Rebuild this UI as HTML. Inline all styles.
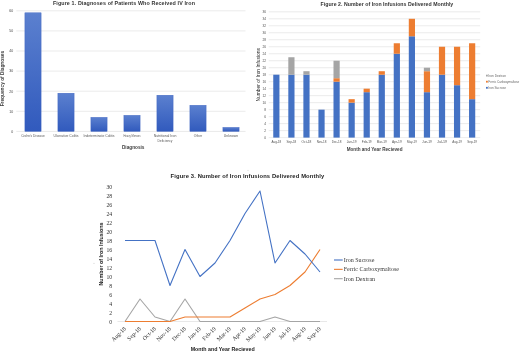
<!DOCTYPE html>
<html><head><meta charset="utf-8"><style>
html,body{margin:0;padding:0;background:#fff;width:520px;height:351px;overflow:hidden;}
svg{display:block;font-family:"Liberation Sans",sans-serif;will-change:transform;filter:blur(0.35px);}
</style></head><body>
<svg width="520" height="351" viewBox="0 0 520 351">
<defs><linearGradient id="g1" x1="0" y1="0" x2="0" y2="1"><stop offset="0" stop-color="#5b80cf"/><stop offset="1" stop-color="#315abd"/></linearGradient></defs>
<rect width="520" height="351" fill="#fff"/>
<text x="52.90" y="4.60" font-size="5.35" text-anchor="start" fill="#333" font-family="'Liberation Sans', sans-serif" font-weight="bold" textLength="142.00" lengthAdjust="spacing">Figure 1. Diagnoses of Patients Who Received IV Iron</text>
<line x1="16.3" y1="111.30" x2="245.5" y2="111.30" stroke="#e6e6e6" stroke-width="0.8"/>
<line x1="16.3" y1="91.20" x2="245.5" y2="91.20" stroke="#e6e6e6" stroke-width="0.8"/>
<line x1="16.3" y1="71.10" x2="245.5" y2="71.10" stroke="#e6e6e6" stroke-width="0.8"/>
<line x1="16.3" y1="51.00" x2="245.5" y2="51.00" stroke="#e6e6e6" stroke-width="0.8"/>
<line x1="16.3" y1="30.90" x2="245.5" y2="30.90" stroke="#e6e6e6" stroke-width="0.8"/>
<line x1="16.3" y1="10.80" x2="245.5" y2="10.80" stroke="#e6e6e6" stroke-width="0.8"/>
<line x1="16.3" y1="131.40" x2="245.5" y2="131.40" stroke="#d9d9d9" stroke-width="0.6"/>
<text x="13.10" y="132.70" font-size="3.5" text-anchor="end" fill="#444" font-family="'Liberation Sans', sans-serif">0</text>
<text x="13.10" y="112.60" font-size="3.5" text-anchor="end" fill="#444" font-family="'Liberation Sans', sans-serif">10</text>
<text x="13.10" y="92.50" font-size="3.5" text-anchor="end" fill="#444" font-family="'Liberation Sans', sans-serif">20</text>
<text x="13.10" y="72.40" font-size="3.5" text-anchor="end" fill="#444" font-family="'Liberation Sans', sans-serif">30</text>
<text x="13.10" y="52.30" font-size="3.5" text-anchor="end" fill="#444" font-family="'Liberation Sans', sans-serif">40</text>
<text x="13.10" y="32.20" font-size="3.5" text-anchor="end" fill="#444" font-family="'Liberation Sans', sans-serif">50</text>
<text x="13.10" y="12.10" font-size="3.5" text-anchor="end" fill="#444" font-family="'Liberation Sans', sans-serif">60</text>
<rect x="24.90" y="12.81" width="16.2" height="118.59" fill="url(#g1)" stroke="#3a60bf" stroke-width="0.4"/>
<text x="33.00" y="137.30" font-size="3.4" text-anchor="middle" fill="#595959" font-family="'Liberation Sans', sans-serif" textLength="23.60" lengthAdjust="spacingAndGlyphs">Crohn's Disease</text>
<rect x="57.90" y="93.21" width="16.2" height="38.19" fill="url(#g1)" stroke="#3a60bf" stroke-width="0.4"/>
<text x="66.00" y="137.30" font-size="3.4" text-anchor="middle" fill="#595959" font-family="'Liberation Sans', sans-serif" textLength="25.00" lengthAdjust="spacingAndGlyphs">Ulcerative Colitis</text>
<rect x="90.90" y="117.33" width="16.2" height="14.07" fill="url(#g1)" stroke="#3a60bf" stroke-width="0.4"/>
<text x="99.00" y="137.30" font-size="3.4" text-anchor="middle" fill="#595959" font-family="'Liberation Sans', sans-serif" textLength="31.00" lengthAdjust="spacingAndGlyphs">Indeterminate Colitis</text>
<rect x="123.90" y="115.32" width="16.2" height="16.08" fill="url(#g1)" stroke="#3a60bf" stroke-width="0.4"/>
<text x="132.00" y="137.30" font-size="3.4" text-anchor="middle" fill="#595959" font-family="'Liberation Sans', sans-serif" textLength="17.00" lengthAdjust="spacingAndGlyphs">Heavy Menses</text>
<rect x="156.90" y="95.22" width="16.2" height="36.18" fill="url(#g1)" stroke="#3a60bf" stroke-width="0.4"/>
<text x="165.00" y="137.10" font-size="3.4" text-anchor="middle" fill="#595959" font-family="'Liberation Sans', sans-serif" textLength="22.70" lengthAdjust="spacingAndGlyphs">Nutritional Iron</text>
<text x="165.00" y="141.50" font-size="3.4" text-anchor="middle" fill="#595959" font-family="'Liberation Sans', sans-serif" textLength="15.00" lengthAdjust="spacingAndGlyphs">Deficiency</text>
<rect x="189.90" y="105.27" width="16.2" height="26.13" fill="url(#g1)" stroke="#3a60bf" stroke-width="0.4"/>
<text x="198.00" y="137.30" font-size="3.4" text-anchor="middle" fill="#595959" font-family="'Liberation Sans', sans-serif" textLength="8.40" lengthAdjust="spacingAndGlyphs">Other</text>
<rect x="222.90" y="127.38" width="16.2" height="4.02" fill="url(#g1)" stroke="#3a60bf" stroke-width="0.4"/>
<text x="231.00" y="137.30" font-size="3.4" text-anchor="middle" fill="#595959" font-family="'Liberation Sans', sans-serif" textLength="14.50" lengthAdjust="spacingAndGlyphs">Unknown</text>
<text x="133.20" y="149.00" font-size="5.2" text-anchor="middle" fill="#404040" font-family="'Liberation Sans', sans-serif" font-weight="bold" textLength="22.50" lengthAdjust="spacingAndGlyphs">Diagnosis</text>
<text x="4.50" y="78.60" font-size="4.9" text-anchor="middle" fill="#404040" font-family="'Liberation Sans', sans-serif" font-weight="bold" textLength="55.50" lengthAdjust="spacingAndGlyphs" transform="rotate(-90 4.50 78.60)">Frequency of Diagnoses</text>
<text x="320.50" y="6.20" font-size="5.2" text-anchor="start" fill="#333" font-family="'Liberation Sans', sans-serif" font-weight="bold" textLength="132.75" lengthAdjust="spacing">Figure 2. Number of Iron Infusions Delivered Monthly</text>
<line x1="268.75" y1="130.61" x2="480.2" y2="130.61" stroke="#e6e6e6" stroke-width="0.8"/>
<line x1="268.75" y1="123.62" x2="480.2" y2="123.62" stroke="#e6e6e6" stroke-width="0.8"/>
<line x1="268.75" y1="116.64" x2="480.2" y2="116.64" stroke="#e6e6e6" stroke-width="0.8"/>
<line x1="268.75" y1="109.65" x2="480.2" y2="109.65" stroke="#e6e6e6" stroke-width="0.8"/>
<line x1="268.75" y1="102.66" x2="480.2" y2="102.66" stroke="#e6e6e6" stroke-width="0.8"/>
<line x1="268.75" y1="95.67" x2="480.2" y2="95.67" stroke="#e6e6e6" stroke-width="0.8"/>
<line x1="268.75" y1="88.68" x2="480.2" y2="88.68" stroke="#e6e6e6" stroke-width="0.8"/>
<line x1="268.75" y1="81.70" x2="480.2" y2="81.70" stroke="#e6e6e6" stroke-width="0.8"/>
<line x1="268.75" y1="74.71" x2="480.2" y2="74.71" stroke="#e6e6e6" stroke-width="0.8"/>
<line x1="268.75" y1="67.72" x2="480.2" y2="67.72" stroke="#e6e6e6" stroke-width="0.8"/>
<line x1="268.75" y1="60.73" x2="480.2" y2="60.73" stroke="#e6e6e6" stroke-width="0.8"/>
<line x1="268.75" y1="53.74" x2="480.2" y2="53.74" stroke="#e6e6e6" stroke-width="0.8"/>
<line x1="268.75" y1="46.76" x2="480.2" y2="46.76" stroke="#e6e6e6" stroke-width="0.8"/>
<line x1="268.75" y1="39.77" x2="480.2" y2="39.77" stroke="#e6e6e6" stroke-width="0.8"/>
<line x1="268.75" y1="32.78" x2="480.2" y2="32.78" stroke="#e6e6e6" stroke-width="0.8"/>
<line x1="268.75" y1="25.79" x2="480.2" y2="25.79" stroke="#e6e6e6" stroke-width="0.8"/>
<line x1="268.75" y1="18.80" x2="480.2" y2="18.80" stroke="#e6e6e6" stroke-width="0.8"/>
<line x1="268.75" y1="11.82" x2="480.2" y2="11.82" stroke="#e6e6e6" stroke-width="0.8"/>
<line x1="268.75" y1="137.60" x2="480.2" y2="137.60" stroke="#e0e0e0" stroke-width="0.6"/>
<text x="266.10" y="138.80" font-size="3.3" text-anchor="end" fill="#555" font-family="'Liberation Sans', sans-serif">0</text>
<text x="266.10" y="131.81" font-size="3.3" text-anchor="end" fill="#555" font-family="'Liberation Sans', sans-serif">2</text>
<text x="266.10" y="124.82" font-size="3.3" text-anchor="end" fill="#555" font-family="'Liberation Sans', sans-serif">4</text>
<text x="266.10" y="117.84" font-size="3.3" text-anchor="end" fill="#555" font-family="'Liberation Sans', sans-serif">6</text>
<text x="266.10" y="110.85" font-size="3.3" text-anchor="end" fill="#555" font-family="'Liberation Sans', sans-serif">8</text>
<text x="266.10" y="103.86" font-size="3.3" text-anchor="end" fill="#555" font-family="'Liberation Sans', sans-serif">10</text>
<text x="266.10" y="96.87" font-size="3.3" text-anchor="end" fill="#555" font-family="'Liberation Sans', sans-serif">12</text>
<text x="266.10" y="89.88" font-size="3.3" text-anchor="end" fill="#555" font-family="'Liberation Sans', sans-serif">14</text>
<text x="266.10" y="82.90" font-size="3.3" text-anchor="end" fill="#555" font-family="'Liberation Sans', sans-serif">16</text>
<text x="266.10" y="75.91" font-size="3.3" text-anchor="end" fill="#555" font-family="'Liberation Sans', sans-serif">18</text>
<text x="266.10" y="68.92" font-size="3.3" text-anchor="end" fill="#555" font-family="'Liberation Sans', sans-serif">20</text>
<text x="266.10" y="61.93" font-size="3.3" text-anchor="end" fill="#555" font-family="'Liberation Sans', sans-serif">22</text>
<text x="266.10" y="54.94" font-size="3.3" text-anchor="end" fill="#555" font-family="'Liberation Sans', sans-serif">24</text>
<text x="266.10" y="47.96" font-size="3.3" text-anchor="end" fill="#555" font-family="'Liberation Sans', sans-serif">26</text>
<text x="266.10" y="40.97" font-size="3.3" text-anchor="end" fill="#555" font-family="'Liberation Sans', sans-serif">28</text>
<text x="266.10" y="33.98" font-size="3.3" text-anchor="end" fill="#555" font-family="'Liberation Sans', sans-serif">30</text>
<text x="266.10" y="26.99" font-size="3.3" text-anchor="end" fill="#555" font-family="'Liberation Sans', sans-serif">32</text>
<text x="266.10" y="20.00" font-size="3.3" text-anchor="end" fill="#555" font-family="'Liberation Sans', sans-serif">34</text>
<text x="266.10" y="13.02" font-size="3.3" text-anchor="end" fill="#555" font-family="'Liberation Sans', sans-serif">36</text>
<rect x="273.25" y="74.71" width="6.2" height="62.89" fill="#4472c4"/>
<text x="276.35" y="142.90" font-size="3.3" text-anchor="middle" fill="#555" font-family="'Liberation Sans', sans-serif" textLength="9.80" lengthAdjust="spacingAndGlyphs">Aug-18</text>
<rect x="288.31" y="74.71" width="6.2" height="62.89" fill="#4472c4"/>
<rect x="288.31" y="57.24" width="6.2" height="17.47" fill="#a5a5a5"/>
<text x="291.41" y="142.90" font-size="3.3" text-anchor="middle" fill="#555" font-family="'Liberation Sans', sans-serif" textLength="9.80" lengthAdjust="spacingAndGlyphs">Sep-18</text>
<rect x="303.37" y="74.71" width="6.2" height="62.89" fill="#4472c4"/>
<rect x="303.37" y="71.21" width="6.2" height="3.49" fill="#a5a5a5"/>
<text x="306.47" y="142.90" font-size="3.3" text-anchor="middle" fill="#555" font-family="'Liberation Sans', sans-serif" textLength="9.80" lengthAdjust="spacingAndGlyphs">Oct-18</text>
<rect x="318.43" y="109.65" width="6.2" height="27.95" fill="#4472c4"/>
<text x="321.53" y="142.90" font-size="3.3" text-anchor="middle" fill="#555" font-family="'Liberation Sans', sans-serif" textLength="9.80" lengthAdjust="spacingAndGlyphs">Nov-18</text>
<rect x="333.49" y="81.70" width="6.2" height="55.90" fill="#4472c4"/>
<rect x="333.49" y="78.20" width="6.2" height="3.49" fill="#ed7d31"/>
<rect x="333.49" y="60.73" width="6.2" height="17.47" fill="#a5a5a5"/>
<text x="336.59" y="142.90" font-size="3.3" text-anchor="middle" fill="#555" font-family="'Liberation Sans', sans-serif" textLength="9.80" lengthAdjust="spacingAndGlyphs">Dec-18</text>
<rect x="348.55" y="102.66" width="6.2" height="34.94" fill="#4472c4"/>
<rect x="348.55" y="99.17" width="6.2" height="3.49" fill="#ed7d31"/>
<text x="351.65" y="142.90" font-size="3.3" text-anchor="middle" fill="#555" font-family="'Liberation Sans', sans-serif" textLength="9.80" lengthAdjust="spacingAndGlyphs">Jan-19</text>
<rect x="363.61" y="92.18" width="6.2" height="45.42" fill="#4472c4"/>
<rect x="363.61" y="88.68" width="6.2" height="3.49" fill="#ed7d31"/>
<text x="366.71" y="142.90" font-size="3.3" text-anchor="middle" fill="#555" font-family="'Liberation Sans', sans-serif" textLength="9.80" lengthAdjust="spacingAndGlyphs">Feb-19</text>
<rect x="378.67" y="74.71" width="6.2" height="62.89" fill="#4472c4"/>
<rect x="378.67" y="71.21" width="6.2" height="3.49" fill="#ed7d31"/>
<text x="381.77" y="142.90" font-size="3.3" text-anchor="middle" fill="#555" font-family="'Liberation Sans', sans-serif" textLength="9.80" lengthAdjust="spacingAndGlyphs">Mar-19</text>
<rect x="393.73" y="53.74" width="6.2" height="83.86" fill="#4472c4"/>
<rect x="393.73" y="43.26" width="6.2" height="10.48" fill="#ed7d31"/>
<text x="396.83" y="142.90" font-size="3.3" text-anchor="middle" fill="#555" font-family="'Liberation Sans', sans-serif" textLength="9.80" lengthAdjust="spacingAndGlyphs">Apr-19</text>
<rect x="408.79" y="36.27" width="6.2" height="101.33" fill="#4472c4"/>
<rect x="408.79" y="18.80" width="6.2" height="17.47" fill="#ed7d31"/>
<text x="411.89" y="142.90" font-size="3.3" text-anchor="middle" fill="#555" font-family="'Liberation Sans', sans-serif" textLength="9.80" lengthAdjust="spacingAndGlyphs">May-19</text>
<rect x="423.85" y="92.18" width="6.2" height="45.42" fill="#4472c4"/>
<rect x="423.85" y="71.21" width="6.2" height="20.96" fill="#ed7d31"/>
<rect x="423.85" y="67.72" width="6.2" height="3.49" fill="#a5a5a5"/>
<text x="426.95" y="142.90" font-size="3.3" text-anchor="middle" fill="#555" font-family="'Liberation Sans', sans-serif" textLength="9.80" lengthAdjust="spacingAndGlyphs">Jun-19</text>
<rect x="438.91" y="74.71" width="6.2" height="62.89" fill="#4472c4"/>
<rect x="438.91" y="46.76" width="6.2" height="27.95" fill="#ed7d31"/>
<text x="442.01" y="142.90" font-size="3.3" text-anchor="middle" fill="#555" font-family="'Liberation Sans', sans-serif" textLength="9.80" lengthAdjust="spacingAndGlyphs">Jul-19</text>
<rect x="453.97" y="85.19" width="6.2" height="52.41" fill="#4472c4"/>
<rect x="453.97" y="46.76" width="6.2" height="38.43" fill="#ed7d31"/>
<text x="457.07" y="142.90" font-size="3.3" text-anchor="middle" fill="#555" font-family="'Liberation Sans', sans-serif" textLength="9.80" lengthAdjust="spacingAndGlyphs">Aug-19</text>
<rect x="469.03" y="99.17" width="6.2" height="38.43" fill="#4472c4"/>
<rect x="469.03" y="43.26" width="6.2" height="55.90" fill="#ed7d31"/>
<text x="472.13" y="142.90" font-size="3.3" text-anchor="middle" fill="#555" font-family="'Liberation Sans', sans-serif" textLength="9.80" lengthAdjust="spacingAndGlyphs">Sep-19</text>
<text x="346.70" y="150.60" font-size="4.9" text-anchor="start" fill="#404040" font-family="'Liberation Sans', sans-serif" font-weight="bold" textLength="55.80" lengthAdjust="spacingAndGlyphs">Month and Year Recieved</text>
<text x="259.80" y="74.75" font-size="4.6" text-anchor="middle" fill="#2a2a2a" font-family="'Liberation Sans', sans-serif" textLength="53.30" lengthAdjust="spacingAndGlyphs" transform="rotate(-90 259.80 74.75)">Number of Iron Infusions</text>
<rect x="486" y="74.70" width="1.8" height="1.8" fill="#a5a5a5"/>
<text x="488.30" y="76.50" font-size="2.6" text-anchor="start" fill="#666" font-family="'Liberation Sans', sans-serif" textLength="17.70" lengthAdjust="spacingAndGlyphs">Iron Dextran</text>
<rect x="486" y="80.80" width="1.8" height="1.8" fill="#ed7d31"/>
<text x="488.30" y="82.60" font-size="2.6" text-anchor="start" fill="#666" font-family="'Liberation Sans', sans-serif" textLength="31.00" lengthAdjust="spacingAndGlyphs">Ferric Carboxymaltose</text>
<rect x="486" y="86.90" width="1.8" height="1.8" fill="#4472c4"/>
<text x="488.30" y="88.70" font-size="2.6" text-anchor="start" fill="#666" font-family="'Liberation Sans', sans-serif" textLength="17.70" lengthAdjust="spacingAndGlyphs">Iron Sucrose</text>
<text x="170.50" y="177.90" font-size="5.8" text-anchor="start" fill="#222" font-family="'Liberation Sans', sans-serif" font-weight="bold" textLength="153.75" lengthAdjust="spacing">Figure 3. Number of Iron Infusions Delivered Monthly</text>
<text x="112.20" y="323.80" font-size="5.7" text-anchor="end" fill="#303030" font-family="'Liberation Serif', serif">0</text>
<text x="112.20" y="314.80" font-size="5.7" text-anchor="end" fill="#303030" font-family="'Liberation Serif', serif">2</text>
<text x="112.20" y="305.80" font-size="5.7" text-anchor="end" fill="#303030" font-family="'Liberation Serif', serif">4</text>
<text x="112.20" y="296.80" font-size="5.7" text-anchor="end" fill="#303030" font-family="'Liberation Serif', serif">6</text>
<text x="112.20" y="287.80" font-size="5.7" text-anchor="end" fill="#303030" font-family="'Liberation Serif', serif">8</text>
<text x="112.20" y="278.80" font-size="5.7" text-anchor="end" fill="#303030" font-family="'Liberation Serif', serif">10</text>
<text x="112.20" y="269.80" font-size="5.7" text-anchor="end" fill="#303030" font-family="'Liberation Serif', serif">12</text>
<text x="112.20" y="260.80" font-size="5.7" text-anchor="end" fill="#303030" font-family="'Liberation Serif', serif">14</text>
<text x="112.20" y="251.80" font-size="5.7" text-anchor="end" fill="#303030" font-family="'Liberation Serif', serif">16</text>
<text x="112.20" y="242.80" font-size="5.7" text-anchor="end" fill="#303030" font-family="'Liberation Serif', serif">18</text>
<text x="112.20" y="233.80" font-size="5.7" text-anchor="end" fill="#303030" font-family="'Liberation Serif', serif">20</text>
<text x="112.20" y="224.80" font-size="5.7" text-anchor="end" fill="#303030" font-family="'Liberation Serif', serif">22</text>
<text x="112.20" y="215.80" font-size="5.7" text-anchor="end" fill="#303030" font-family="'Liberation Serif', serif">24</text>
<text x="112.20" y="206.80" font-size="5.7" text-anchor="end" fill="#303030" font-family="'Liberation Serif', serif">26</text>
<text x="112.20" y="197.80" font-size="5.7" text-anchor="end" fill="#303030" font-family="'Liberation Serif', serif">28</text>
<text x="112.20" y="188.80" font-size="5.7" text-anchor="end" fill="#303030" font-family="'Liberation Serif', serif">30</text>
<line x1="117.5" y1="321.5" x2="327" y2="321.5" stroke="#d9d9d9" stroke-width="0.6"/>
<polyline points="125.00,321.50 140.00,299.00 155.00,317.00 170.00,321.50 185.00,299.00 200.00,321.50 215.00,321.50 230.00,321.50 245.00,321.50 260.00,321.50 275.00,317.00 290.00,321.50 305.00,321.50 320.00,321.50" fill="none" stroke="#a5a5a5" stroke-width="1.1" stroke-linejoin="round"/>
<polyline points="125.00,321.50 140.00,321.50 155.00,321.50 170.00,321.50 185.00,317.00 200.00,317.00 215.00,317.00 230.00,317.00 245.00,308.00 260.00,299.00 275.00,294.50 290.00,285.50 305.00,272.00 320.00,249.50" fill="none" stroke="#ed7d31" stroke-width="1.1" stroke-linejoin="round"/>
<polyline points="125.00,240.50 140.00,240.50 155.00,240.50 170.00,285.50 185.00,249.50 200.00,276.50 215.00,263.00 230.00,240.50 245.00,213.50 260.00,191.00 275.00,263.00 290.00,240.50 305.00,254.00 320.00,272.00" fill="none" stroke="#4472c4" stroke-width="1.1" stroke-linejoin="round"/>
<text x="126.40" y="329.10" font-size="5.9" text-anchor="end" fill="#303030" font-family="'Liberation Serif', serif" transform="rotate(-45 126.40 329.10)">Aug-18</text>
<text x="141.40" y="329.10" font-size="5.9" text-anchor="end" fill="#303030" font-family="'Liberation Serif', serif" transform="rotate(-45 141.40 329.10)">Sep-18</text>
<text x="156.40" y="329.10" font-size="5.9" text-anchor="end" fill="#303030" font-family="'Liberation Serif', serif" transform="rotate(-45 156.40 329.10)">Oct-18</text>
<text x="171.40" y="329.10" font-size="5.9" text-anchor="end" fill="#303030" font-family="'Liberation Serif', serif" transform="rotate(-45 171.40 329.10)">Nov-18</text>
<text x="186.40" y="329.10" font-size="5.9" text-anchor="end" fill="#303030" font-family="'Liberation Serif', serif" transform="rotate(-45 186.40 329.10)">Dec-18</text>
<text x="201.40" y="329.10" font-size="5.9" text-anchor="end" fill="#303030" font-family="'Liberation Serif', serif" transform="rotate(-45 201.40 329.10)">Jan-19</text>
<text x="216.40" y="329.10" font-size="5.9" text-anchor="end" fill="#303030" font-family="'Liberation Serif', serif" transform="rotate(-45 216.40 329.10)">Feb-19</text>
<text x="231.40" y="329.10" font-size="5.9" text-anchor="end" fill="#303030" font-family="'Liberation Serif', serif" transform="rotate(-45 231.40 329.10)">Mar-19</text>
<text x="246.40" y="329.10" font-size="5.9" text-anchor="end" fill="#303030" font-family="'Liberation Serif', serif" transform="rotate(-45 246.40 329.10)">Apr-19</text>
<text x="261.40" y="329.10" font-size="5.9" text-anchor="end" fill="#303030" font-family="'Liberation Serif', serif" transform="rotate(-45 261.40 329.10)">May-19</text>
<text x="276.40" y="329.10" font-size="5.9" text-anchor="end" fill="#303030" font-family="'Liberation Serif', serif" transform="rotate(-45 276.40 329.10)">Jun-19</text>
<text x="291.40" y="329.10" font-size="5.9" text-anchor="end" fill="#303030" font-family="'Liberation Serif', serif" transform="rotate(-45 291.40 329.10)">Jul-19</text>
<text x="306.40" y="329.10" font-size="5.9" text-anchor="end" fill="#303030" font-family="'Liberation Serif', serif" transform="rotate(-45 306.40 329.10)">Aug-19</text>
<text x="321.40" y="329.10" font-size="5.9" text-anchor="end" fill="#303030" font-family="'Liberation Serif', serif" transform="rotate(-45 321.40 329.10)">Sep-19</text>
<text x="103.00" y="254.00" font-size="4.6" text-anchor="middle" fill="#222" font-family="'Liberation Sans', sans-serif" font-weight="bold" textLength="63.00" lengthAdjust="spacingAndGlyphs" transform="rotate(-90 103.00 254.00)">Number of Iron Infusions</text>
<text x="190.70" y="351.10" font-size="4.8" text-anchor="start" fill="#222" font-family="'Liberation Sans', sans-serif" font-weight="bold" textLength="64.00" lengthAdjust="spacingAndGlyphs">Month and Year Recieved</text>
<line x1="334" y1="260.00" x2="342.7" y2="260.00" stroke="#4472c4" stroke-width="1.1"/>
<text x="343.70" y="262.05" font-size="6.25" text-anchor="start" fill="#3a3a3a" font-family="'Liberation Serif', serif" textLength="30.70" lengthAdjust="spacingAndGlyphs">Iron Sucrose</text>
<line x1="334" y1="269.35" x2="342.7" y2="269.35" stroke="#ed7d31" stroke-width="1.1"/>
<text x="343.70" y="271.40" font-size="6.25" text-anchor="start" fill="#3a3a3a" font-family="'Liberation Serif', serif" textLength="55.20" lengthAdjust="spacingAndGlyphs">Ferric Carboxymaltose</text>
<line x1="334" y1="278.70" x2="342.7" y2="278.70" stroke="#a5a5a5" stroke-width="1.1"/>
<text x="343.70" y="280.75" font-size="6.25" text-anchor="start" fill="#3a3a3a" font-family="'Liberation Serif', serif" textLength="31.50" lengthAdjust="spacingAndGlyphs">Iron Dextran</text>
<circle cx="94" cy="263.4" r="0.6" fill="#d8d8d8"/>
<circle cx="248" cy="170.4" r="0.6" fill="#e0e0e0"/>
</svg>
</body></html>
